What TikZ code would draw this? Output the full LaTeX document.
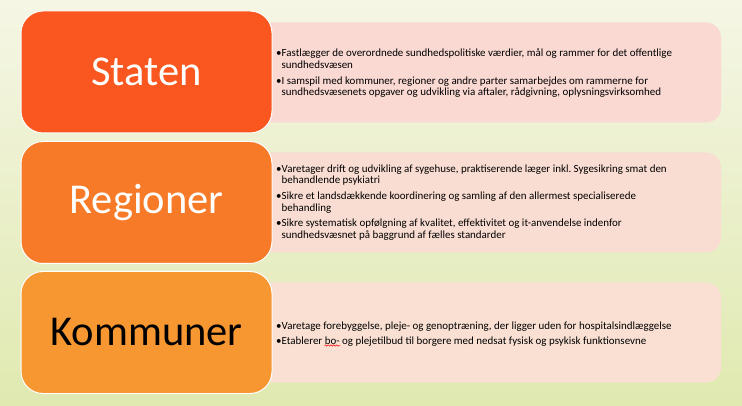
\documentclass[tikz,border=0pt]{standalone}
\usepackage{fontspec}
\setmainfont{Carlito}
\usetikzlibrary{decorations.pathmorphing}
\frenchspacing

\definecolor{bgtop}{RGB}{245,246,229}
\definecolor{bgbund}{RGB}{224,233,176}
\definecolor{statenfarve}{RGB}{249,87,31}
\definecolor{regionfarve}{RGB}{247,122,40}
\definecolor{kommunefarve}{RGB}{246,151,49}
\definecolor{statenlys}{RGB}{250,217,211}
\definecolor{regionlys}{RGB}{249,221,210}
\definecolor{kommunelys}{RGB}{249,224,211}

\begin{document}
\begin{tikzpicture}[
        x=1pt, y=-1pt,
        niveau/.style={rectangle, rounded corners=22pt, draw=white, line width=1pt, minimum width=251pt, minimum height=122pt, inner sep=0pt, font=\fontsize{42.5}{48}\selectfont},
        infoboks/.style={rectangle, rounded corners=15pt, minimum width=481pt, minimum height=100pt, inner sep=0pt},
        punkter/.style={anchor=west, align=left, inner sep=0pt, font=\fontsize{10.95}{11.3}\selectfont},
        stavefejl/.style={red, line width=0.5pt, decorate, decoration={snake, amplitude=0.7pt, segment length=2.8pt}}
    ]

        % baggrund
        \useasboundingbox (0,0) rectangle (742,406);
        \shade[top color=bgtop, bottom color=bgbund] (0,0) rectangle (742,406);

        \node[infoboks, fill=statenlys] (staten_info) at (480.5, 72.5) {};
        \node[niveau, fill=statenfarve, text=white] (staten) at (146.5, 72) {Staten};
        \node[punkter] (staten_txt) at (276, 73.5) {%
            •Fastlægger de overordnede sundhedspolitiske værdier, mål og rammer for det offentlige\\
            \phantom{•}sundhedsvæsen\\[5pt]
            •I samspil med kommuner, regioner og andre parter samarbejdes om rammerne for\\
            \phantom{•}sundhedsvæsenets opgaver og udvikling via aftaler, rådgivning, oplysningsvirksomhed};

        \begin{scope}[shift={(0,130)}]
            \node[infoboks, fill=regionlys] (region_info) at (480.5, 72.5) {};
            \node[niveau, fill=regionfarve, text=white] (region) at (146.5, 72.5) {Regioner};
            \node[punkter] (region_txt) at (276, 72.5) {%
                •Varetager drift og udvikling af sygehuse, praktiserende læger inkl. Sygesikring smat den\\
                \phantom{•}behandlende psykiatri\\[4.5pt]
                •Sikre et landsdækkende koordinering og samling af den allermest specialiserede\\
                \phantom{•}behandling\\[4.5pt]
                •Sikre systematisk opfølgning af kvalitet, effektivitet og it-anvendelse indenfor\\
                \phantom{•}sundhedsvæsnet på baggrund af fælles standarder};
        \end{scope}

        \begin{scope}[shift={(0,260)}]
            \node[infoboks, fill=kommunelys] (kommune_info) at (480.5, 72.5) {};
            \node[niveau, fill=kommunefarve, text=black] (kommune) at (146.5, 72.5) {Kommuner};
            \node[punkter] (kommune_txt) at (276, 74) {%
                •Varetage forebyggelse, pleje- og genoptræning, der ligger uden for hospitalsindlæggelse\\[3pt]
                •Etablerer bo- og plejetilbud til borgere med nedsat fysisk og psykisk funktionsevne};
            % rød bølgelinje under "bo-"
            \coordinate (fejl_a) at (324.5, 85.5);
            \coordinate (fejl_b) at (340, 85.5);
            \draw[stavefejl] (fejl_a) -- (fejl_b);
        \end{scope}
    \end{tikzpicture}
\end{document}
